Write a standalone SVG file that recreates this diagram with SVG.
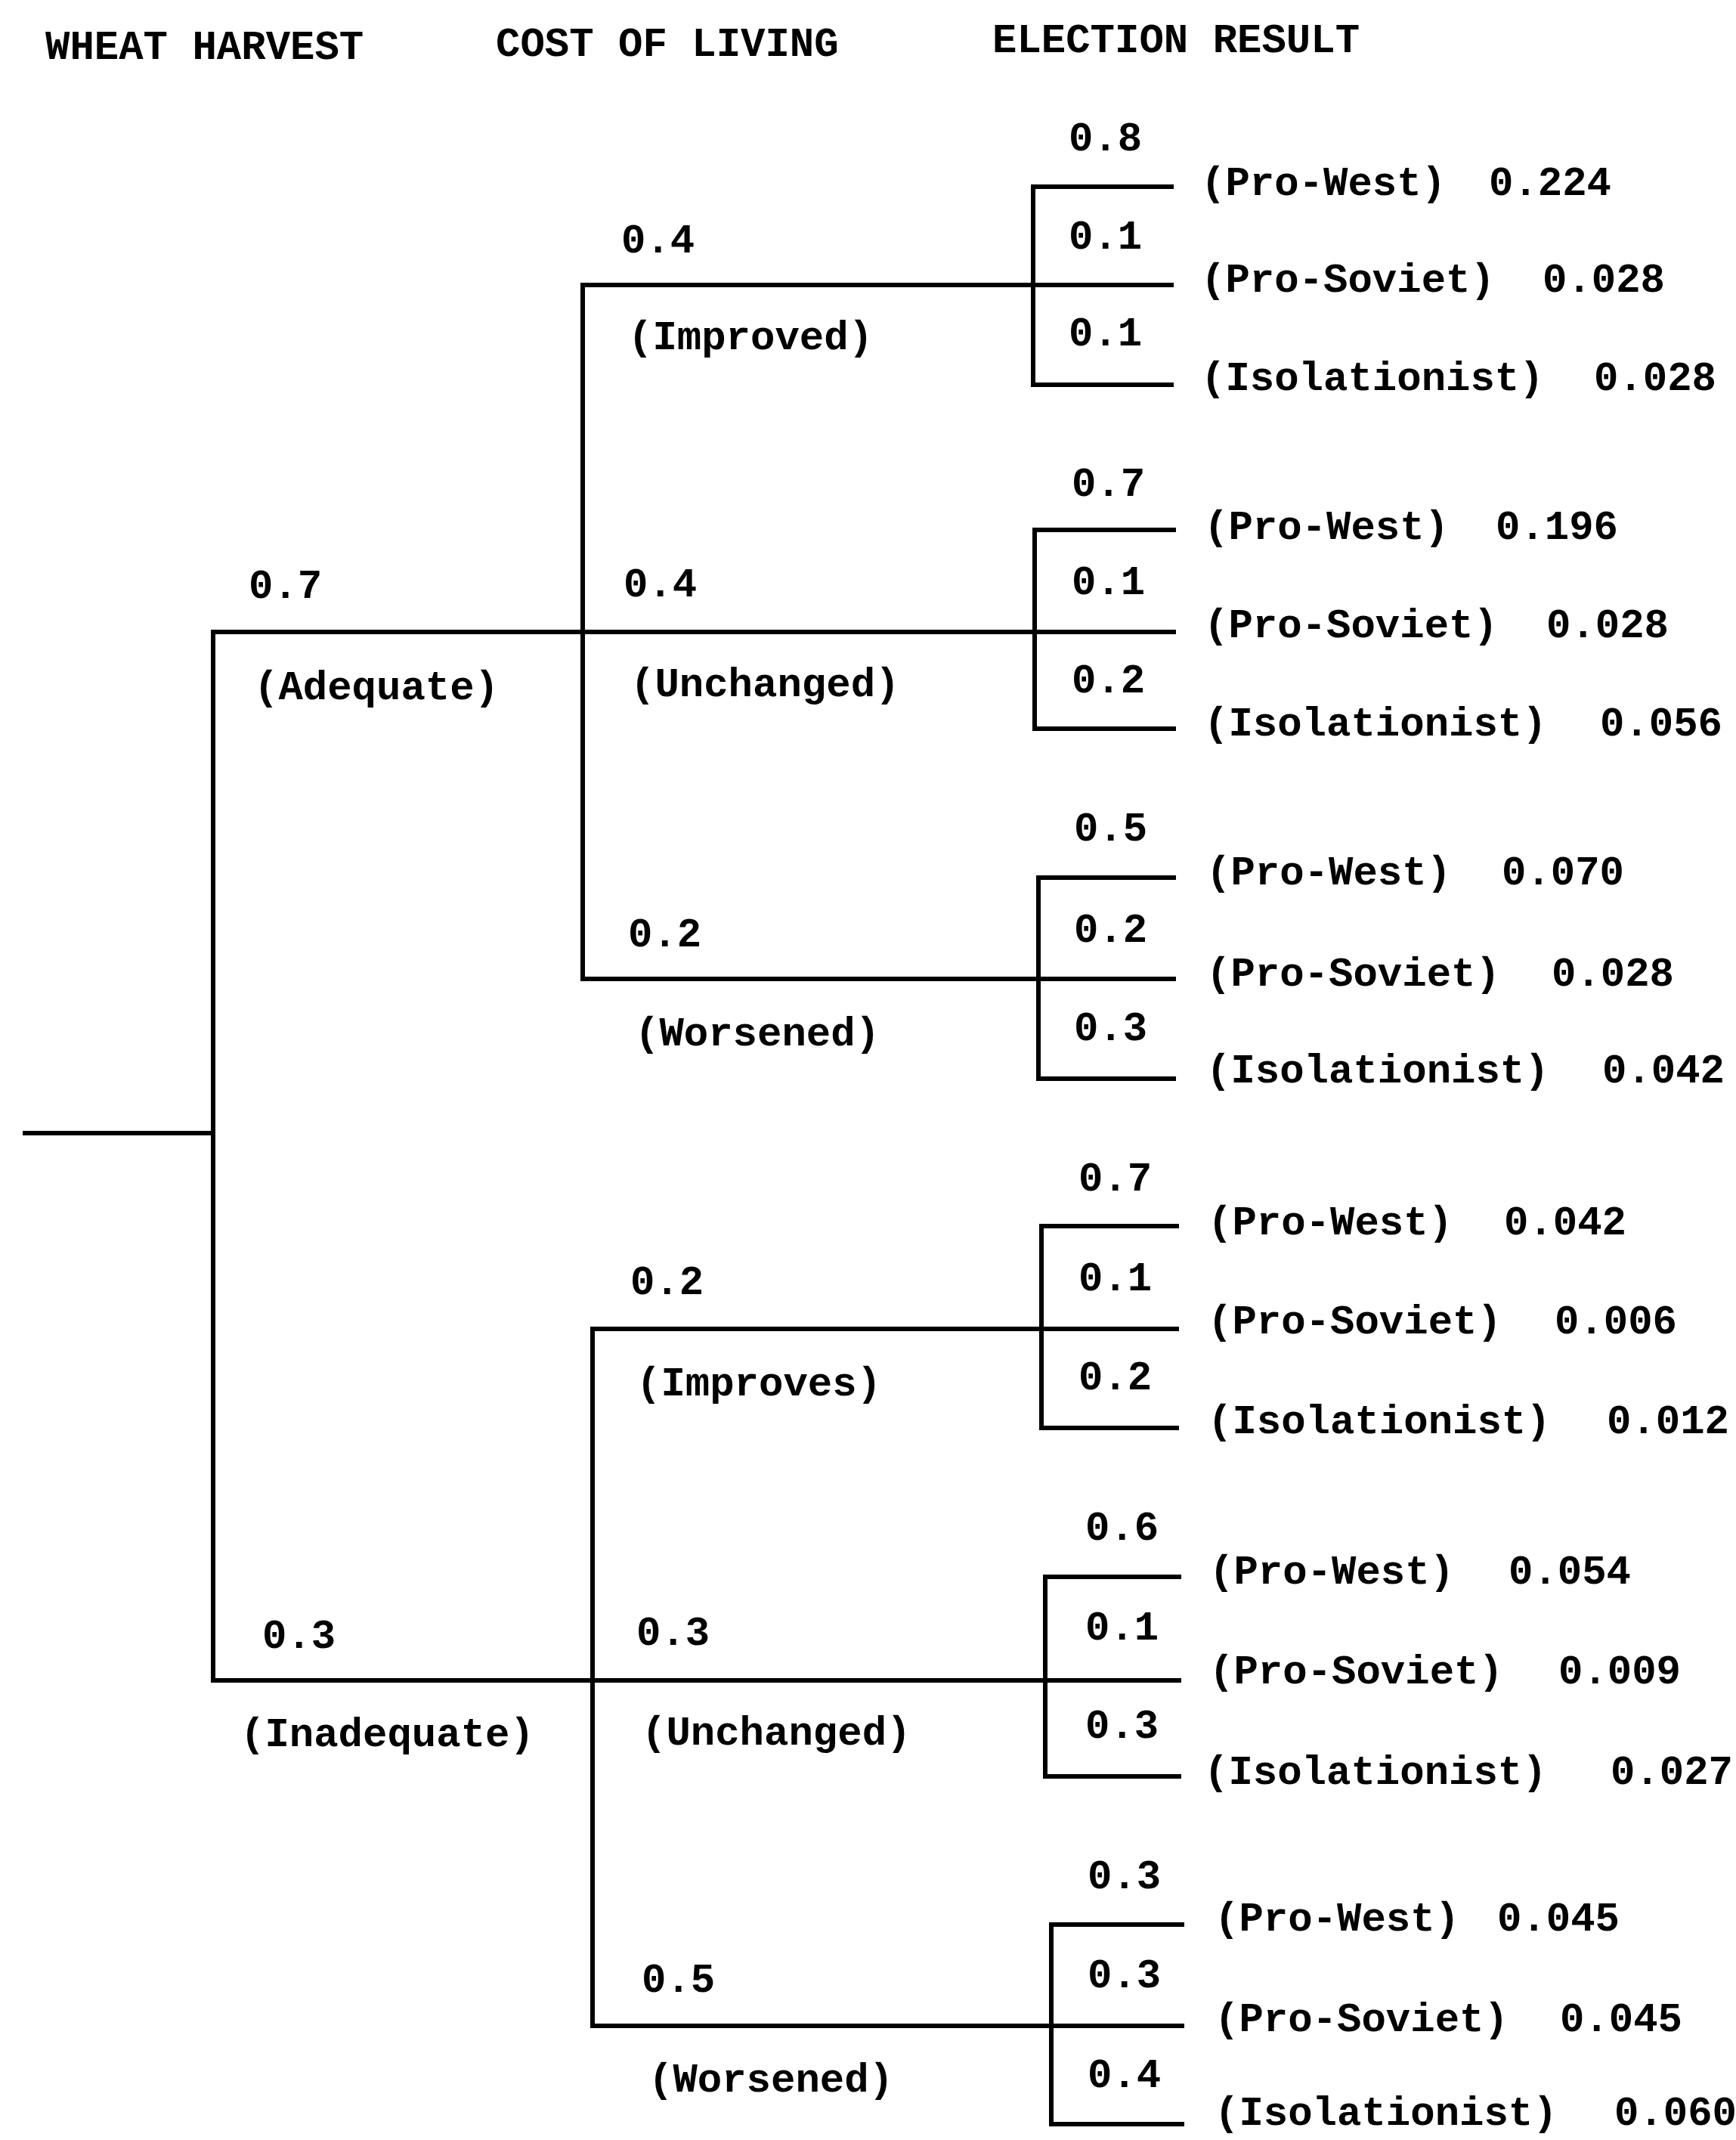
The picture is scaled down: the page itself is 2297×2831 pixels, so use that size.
<svg xmlns="http://www.w3.org/2000/svg" width="2297" height="2831" viewBox="0 0 2297 2831">
<style>
text{font-family:"Liberation Mono","DejaVu Sans Mono",monospace;font-weight:bold;font-size:54px;fill:#000}
.ln{stroke:#000;stroke-width:6;fill:none;stroke-linecap:square}
</style>
<rect width="2297" height="2831" fill="#fff"/>
<g id="headers">
<text x="60" y="78">WHEAT HARVEST</text>
<text x="656" y="74">COST OF LIVING</text>
<text x="1313" y="69">ELECTION RESULT</text>
</g>
<g id="connectors" class="ln">
<path d="M33,1499H282"/>
<path d="M282,836V2223"/>
<path d="M282,836H1553"/>
<path d="M282,2223H1560"/>
<path d="M771,377V1295"/>
<path d="M771,377H1550"/>
<path d="M771,1295H1553"/>
<path d="M784,1758V2680"/>
<path d="M784,1758H1557"/>
<path d="M784,2680H1564"/>
<path d="M1550,247H1367V509H1550"/>
<path d="M1553,701H1369V964H1553"/>
<path d="M1553,1161H1374V1427H1553"/>
<path d="M1557,1622H1378V1889H1557"/>
<path d="M1560,2086H1383V2350H1560"/>
<path d="M1564,2546H1391V2810H1564"/>
</g>
<g id="harvest-adequate"><text x="329" y="791">0.7</text><text x="336" y="925">(Adequate)</text></g>
<g id="harvest-inadequate"><text x="347" y="2180">0.3</text><text x="318" y="2310">(Inadequate)</text></g>
<g id="cost-a-improved"><text x="822" y="334">0.4</text><text x="831" y="462">(Improved)</text></g>
<g id="cost-a-unchanged"><text x="825" y="789">0.4</text><text x="834" y="921">(Unchanged)</text></g>
<g id="cost-a-worsened"><text x="831" y="1252">0.2</text><text x="840" y="1383">(Worsened)</text></g>
<g id="cost-i-improves"><text x="834" y="1712">0.2</text><text x="842" y="1846">(Improves)</text></g>
<g id="cost-i-unchanged"><text x="842" y="2176">0.3</text><text x="849" y="2308">(Unchanged)</text></g>
<g id="cost-i-worsened"><text x="849" y="2635">0.5</text><text x="858" y="2767">(Worsened)</text></g>
<g id="election-g1">
<text x="1414" y="199">0.8</text><text x="1414" y="329">0.1</text><text x="1414" y="457">0.1</text>
<text x="1589" y="258">(Pro-West)</text><text x="1970" y="258">0.224</text>
<text x="1589" y="386">(Pro-Soviet)</text><text x="2041" y="386">0.028</text>
<text x="1589" y="516">(Isolationist)</text><text x="2109" y="516">0.028</text>
</g>
<g id="election-g2">
<text x="1418" y="656">0.7</text><text x="1418" y="786">0.1</text><text x="1418" y="916">0.2</text>
<text x="1593" y="713">(Pro-West)</text><text x="1979" y="713">0.196</text>
<text x="1593" y="843">(Pro-Soviet)</text><text x="2046" y="843">0.028</text>
<text x="1593" y="973">(Isolationist)</text><text x="2117" y="973">0.056</text>
</g>
<g id="election-g3">
<text x="1421" y="1112">0.5</text><text x="1421" y="1246">0.2</text><text x="1421" y="1376">0.3</text>
<text x="1596" y="1170">(Pro-West)</text><text x="1987" y="1170">0.070</text>
<text x="1596" y="1304">(Pro-Soviet)</text><text x="2053" y="1304">0.028</text>
<text x="1596" y="1432">(Isolationist)</text><text x="2120" y="1432">0.042</text>
</g>
<g id="election-g4">
<text x="1427" y="1575">0.7</text><text x="1427" y="1707">0.1</text><text x="1427" y="1838">0.2</text>
<text x="1598" y="1633">(Pro-West)</text><text x="1990" y="1633">0.042</text>
<text x="1598" y="1764">(Pro-Soviet)</text><text x="2057" y="1764">0.006</text>
<text x="1598" y="1896">(Isolationist)</text><text x="2126" y="1896">0.012</text>
</g>
<g id="election-g5">
<text x="1436" y="2037">0.6</text><text x="1436" y="2169">0.1</text><text x="1436" y="2299">0.3</text>
<text x="1600" y="2095">(Pro-West)</text><text x="1996" y="2095">0.054</text>
<text x="1600" y="2227">(Pro-Soviet)</text><text x="2062" y="2227">0.009</text>
<text x="1593" y="2360">(Isolationist)</text><text x="2131" y="2360">0.027</text>
</g>
<g id="election-g6">
<text x="1439" y="2498">0.3</text><text x="1439" y="2629">0.3</text><text x="1439" y="2761">0.4</text>
<text x="1607" y="2554">(Pro-West)</text><text x="1981" y="2554">0.045</text>
<text x="1607" y="2687">(Pro-Soviet)</text><text x="2064" y="2687">0.045</text>
<text x="1607" y="2811">(Isolationist)</text><text x="2136" y="2811">0.060</text>
</g>
</svg>
